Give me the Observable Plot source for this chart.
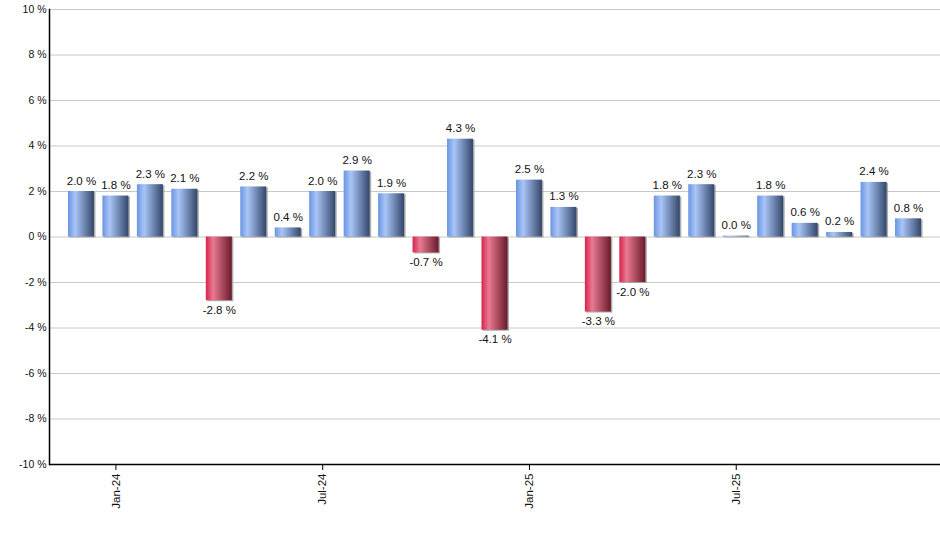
<!DOCTYPE html>
<html>
<head>
<meta charset="utf-8">
<script src="https://cdn.jsdelivr.net/npm/d3@7"></script>
<script src="https://cdn.jsdelivr.net/npm/@observablehq/plot@0.6"></script>
<style>
  html, body { margin: 0; padding: 0; background: #fff; }
  #chart svg { font-family: "Liberation Sans", Arial, sans-serif; }
</style>
</head>
<body>
<div id="chart"></div>
<script>
const months = ["Dec-23","Jan-24","Feb-24","Mar-24","Apr-24","May-24","Jun-24","Jul-24","Aug-24","Sep-24","Oct-24","Nov-24","Dec-24","Jan-25","Feb-25","Mar-25","Apr-25","May-25","Jun-25","Jul-25","Aug-25","Sep-25","Oct-25","Nov-25","Dec-25"];
const values = [2.0, 1.8, 2.3, 2.1, -2.8, 2.2, 0.4, 2.0, 2.9, 1.9, -0.7, 4.3, -4.1, 2.5, 1.3, -3.3, -2.0, 1.8, 2.3, 0.04, 1.8, 0.6, 0.2, 2.4, 0.8];
const xTicks = ["Jan-24","Jul-24","Jan-25","Jul-25"];
const yTicks = [-10, -8, -6, -4, -2, 0, 2, 4, 6, 8, 10];

const data = months.map((m, i) => ({month: m, value: values[i]}));
const pos = data.filter(d => d.value >= 0);
const neg = data.filter(d => d.value < 0);
const fmt = d => d.value.toFixed(1) + " %";

const svg = Plot.plot({
  width: 940,
  height: 550,
  marginLeft: 49,
  marginRight: 0,
  marginTop: 9,
  marginBottom: 86,
  style: {fontFamily: "'Liberation Sans', Arial, sans-serif", background: "#fff", color: "#111"},
  x: {domain: months, paddingInner: 0.245, paddingOuter: 0.55, round: false, label: null},
  y: {domain: [-10, 10], label: null},
  marks: [
    Plot.ruleY(yTicks, {stroke: "#c8c8c8", strokeWidth: 1}),
    Plot.barY(data, {x: "month", y: "value", fill: "#9a9a9a", fillOpacity: 0.8, dx: 1.5, dy: 1}),
    Plot.barY(pos, {x: "month", y: "value", fill: "url(#gBlue)"}),
    Plot.barY(neg, {x: "month", y: "value", fill: "url(#gRed)"}),
    Plot.text(pos, {x: "month", y: "value", text: fmt, lineAnchor: "bottom", dy: -7, fontSize: 11.5, fill: "#111"}),
    Plot.text(neg, {x: "month", y: "value", text: fmt, lineAnchor: "top", dy: 5, fontSize: 11.5, fill: "#111"}),
    Plot.axisY({ticks: yTicks, tickFormat: d => d + " %", tickSize: 0, tickPadding: 3, fontSize: 10.5, label: null}),
    Plot.axisX({ticks: xTicks, tickRotate: -90, tickSize: 6, tickPadding: 3, fontSize: 11.5, label: null, stroke: "#000"}),
    Plot.ruleY([-10], {stroke: "#000", strokeWidth: 1.5}),
    Plot.frame({anchor: "left", stroke: "#000", strokeWidth: 1.5})
  ]
});

const defs = d3.select(svg).insert("defs", ":first-child");
function grad(id, stops) {
  const g = defs.append("linearGradient").attr("id", id).attr("x1", "0%").attr("x2", "100%").attr("y1", "0%").attr("y2", "0%");
  stops.forEach(([o, c]) => g.append("stop").attr("offset", o).attr("stop-color", c));
}
grad("gBlue", [["0%", "#6a94e2"], ["28%", "#a9c5f7"], ["100%", "#33476b"]]);
grad("gRed", [["0%", "#d8224c"], ["28%", "#e97a92"], ["100%", "#6a1a2c"]]);

document.getElementById("chart").appendChild(svg);
</script>
</body>
</html>
